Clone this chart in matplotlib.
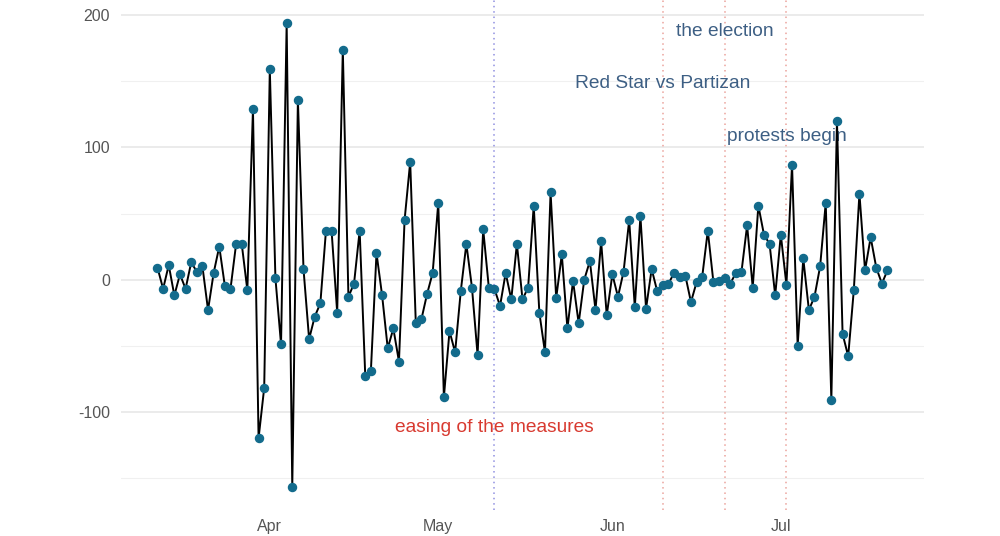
import numpy as np
import pandas as pd
import matplotlib
matplotlib.use("Agg")
import matplotlib.pyplot as plt
import matplotlib.dates as mdates

plt.rcParams["font.family"] = ["Liberation Sans", "DejaVu Sans"]
plt.rcParams["axes.unicode_minus"] = False

start_date = "2020-03-12"
values = [
    9, -7, 11, -12, 4, -7, 13, 6, 10, -23,
    5, 25, -5, -7, 27, 27, -8, 129, -120, -82,
    159, 1, -49, 194, -157, 136, 8, -45, -28, -18,
    37, 37, -25, 174, -13, -3, 37, -73, -69, 20,
    -12, -52, -37, -62, 45, 89, -33, -30, -11, 5,
    58, -89, -39, -55, -9, 27, -6, -57, 38, -6,
    -7, -20, 5, -15, 27, -15, -6, 56, -25, -55,
    66, -14, 19, -37, -1, -33, 0, 14, -23, 29,
    -27, 4, -13, 6, 45, -21, 48, -22, 8, -9,
    -4, -3, 5, 2, 3, -17, -2, 2, 37, -2,
    -1, 1, -3, 5, 6, 41, -6, 56, 34, 27,
    -12, 34, -4, 87, -50, 16, -23, -13, 10, 58,
    -91, 120, -41, -58, -8, 65, 7, 32, 9, -3,
    7,
]

events = ["easing of the measures", "Red Star vs Partizan", "the election", "protests begin"]
event_dates = ["2020-05-11", "2020-06-10", "2020-06-21", "2020-07-02"]
event_label_y = [-112, 148, 188, 108]
event_line_colors = ["#8f8fe0", "#eba39c", "#eba39c", "#eba39c"]
event_text_colors = ["#d83a30", "#3d5f84", "#3d5f84", "#3d5f84"]

dates = pd.date_range(start_date, periods=len(values), freq="D")

fig = plt.figure(figsize=(10, 5.36), dpi=100)
ax = fig.add_axes([0.121, 0.048, 0.803, 0.952])

# event markers behind the data
for d, c in zip(event_dates, event_line_colors):
    ax.axvline(pd.Timestamp(d), color=c, linestyle=(0, (1, 2.5)), linewidth=1.1, zorder=1)

for lab, d, y, c in zip(events, event_dates, event_label_y, event_text_colors):
    ax.text(pd.Timestamp(d), y, lab, color=c, fontsize=13.8, ha="center", va="center", zorder=2)

ax.plot(dates, values, color="black", linewidth=1.4, zorder=3)
ax.plot(dates, values, "o", color="#136b8c", markersize=5.8, zorder=4)

span = len(values) - 1
pad = span * 0.05
ax.set_xlim(dates[0] - pd.Timedelta(days=pad), dates[-1] + pd.Timedelta(days=pad))
ymin, ymax = min(values), max(values)
yp = (ymax - ymin) * 0.05
ax.set_ylim(ymin - yp, ymax + yp)

ax.xaxis.set_major_locator(mdates.MonthLocator())
ax.xaxis.set_major_formatter(mdates.DateFormatter("%b"))
ax.set_yticks([-100, 0, 100, 200])
ax.set_yticks([-150, -50, 50, 150], minor=True)

ax.grid(axis="y", which="major", color="#e6e6e6", linewidth=1.1)
ax.grid(axis="y", which="minor", color="#f0f0f0", linewidth=0.8)
ax.set_axisbelow(True)
for s in ax.spines.values():
    s.set_visible(False)
ax.tick_params(axis="both", which="both", length=0, labelsize=11.5, colors="#555555")
ax.tick_params(axis="y", pad=8)
ax.tick_params(axis="x", pad=6)

fig.savefig("out.png", dpi=100)
